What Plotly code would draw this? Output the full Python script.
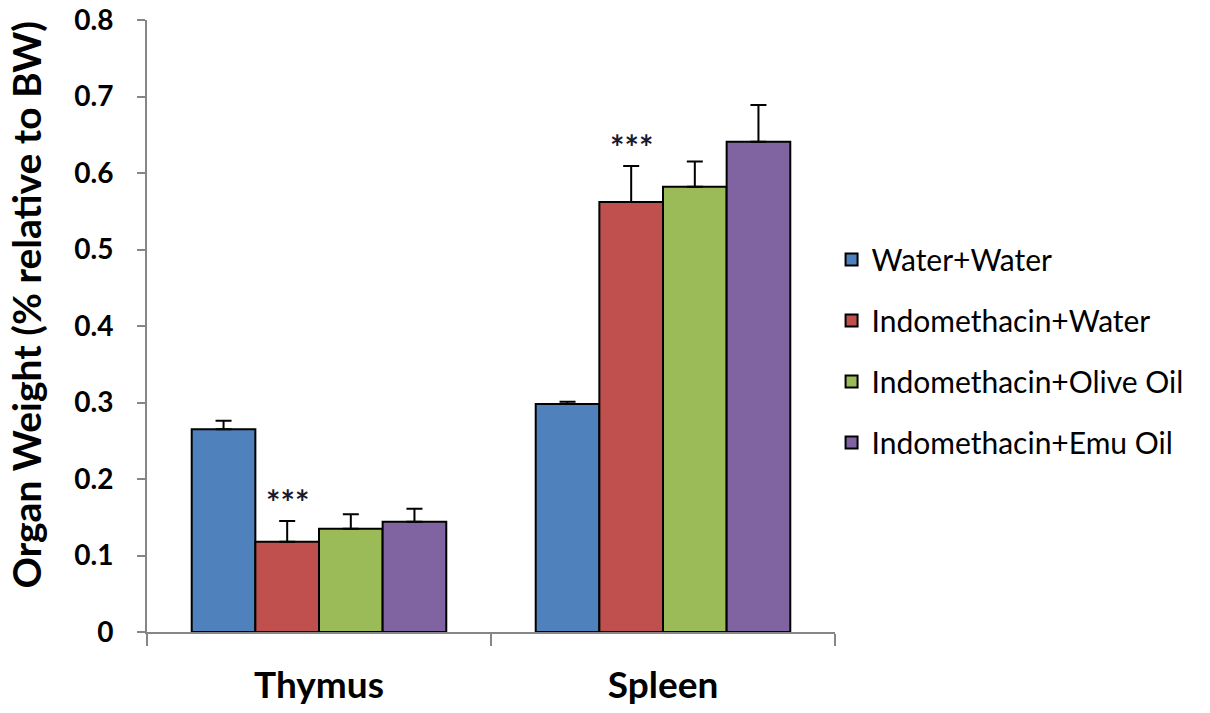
import plotly.graph_objects as go

categories = ["Thymus", "Spleen"]
series_names = ["Water+Water", "Indomethacin+Water", "Indomethacin+Olive Oil", "Indomethacin+Emu Oil"]
water_water = [0.265, 0.298]
indo_water = [0.118, 0.562]
indo_olive = [0.135, 0.582]
indo_emu = [0.144, 0.641]
err_water_water = [0.011, 0.003]
err_indo_water = [0.027, 0.047]
err_indo_olive = [0.019, 0.033]
err_indo_emu = [0.017, 0.048]
colors = ["#4F81BD", "#C0504D", "#9BBB59", "#8064A2"]
sig_labels = ["***", "***"]
y_title = "Organ Weight (% relative to BW)"

values = [water_water, indo_water, indo_olive, indo_emu]
errors = [err_water_water, err_indo_water, err_indo_olive, err_indo_emu]

fig = go.Figure()
for i, (name, vals, errs) in enumerate(zip(series_names, values, errors)):
    fig.add_trace(go.Bar(
        name=name, x=categories, y=vals,
        marker=dict(color=colors[i], line=dict(color="black", width=2)),
        error_y=dict(type="data", array=errs, symmetric=False, arrayminus=[0]*len(errs),
                     color="black", thickness=2, width=8),
        legendgroup=name,
    ))

font_family = "Lato, 'Open Sans', sans-serif"

# significance markers above red bars (red bar is 2nd of 4 in each group)
for j, cat in enumerate(categories):
    fig.add_annotation(
        x=j - 0.74 / 8, xref="x", y=indo_water[j] + err_indo_water[j] + 0.026, yref="y",
        text=sig_labels[j], showarrow=False, yanchor="middle",
        font=dict(family=font_family, size=34, color="#1a1a2e", weight="bold"),
    )

# y-axis title as rotated annotation
fig.add_annotation(
    x=-0.176, xref="paper", y=0.535, yref="paper",
    text=y_title, textangle=-90, showarrow=False,
    xanchor="center", yanchor="middle",
    font=dict(size=39, family=font_family, color="black", weight="bold"),
)

fig.update_layout(
    width=1210, height=713,
    margin=dict(l=147, r=375, t=20, b=81),
    paper_bgcolor="white", plot_bgcolor="white",
    barmode="group", bargap=0.26, bargroupgap=0,
    font=dict(family=font_family, color="black"),
    xaxis=dict(
        type="category", showline=True, linecolor="#868686", linewidth=2,
        ticks="outside", tickson="boundaries", ticklen=12, tickcolor="#868686", tickwidth=2,
        tickfont=dict(size=37, family=font_family, color="black", weight="bold"),
        ticklabelstandoff=20, showgrid=False, zeroline=False, automargin=False,
        ticklabeloverflow="allow",
    ),
    yaxis=dict(
        range=[0, 0.8], dtick=0.1, showline=True, linecolor="#868686", linewidth=2,
        ticks="outside", ticklen=8, tickcolor="#868686", tickwidth=2,
        tickfont=dict(size=28, family=font_family, color="black", weight="bold"),
        ticklabelstandoff=18, showgrid=False, zeroline=False, automargin=False,
        ticklabeloverflow="allow",
    ),
    legend=dict(
        x=0.995, y=0.459, xanchor="left", yanchor="middle",
        font=dict(size=30, family=font_family, color="black"),
        tracegroupgap=19, traceorder="grouped", itemwidth=30,
        bgcolor="rgba(0,0,0,0)",
    ),
)

fig.write_html("out.html", post_script="document.body.style.margin='0';",
               config={"displayModeBar": False})
